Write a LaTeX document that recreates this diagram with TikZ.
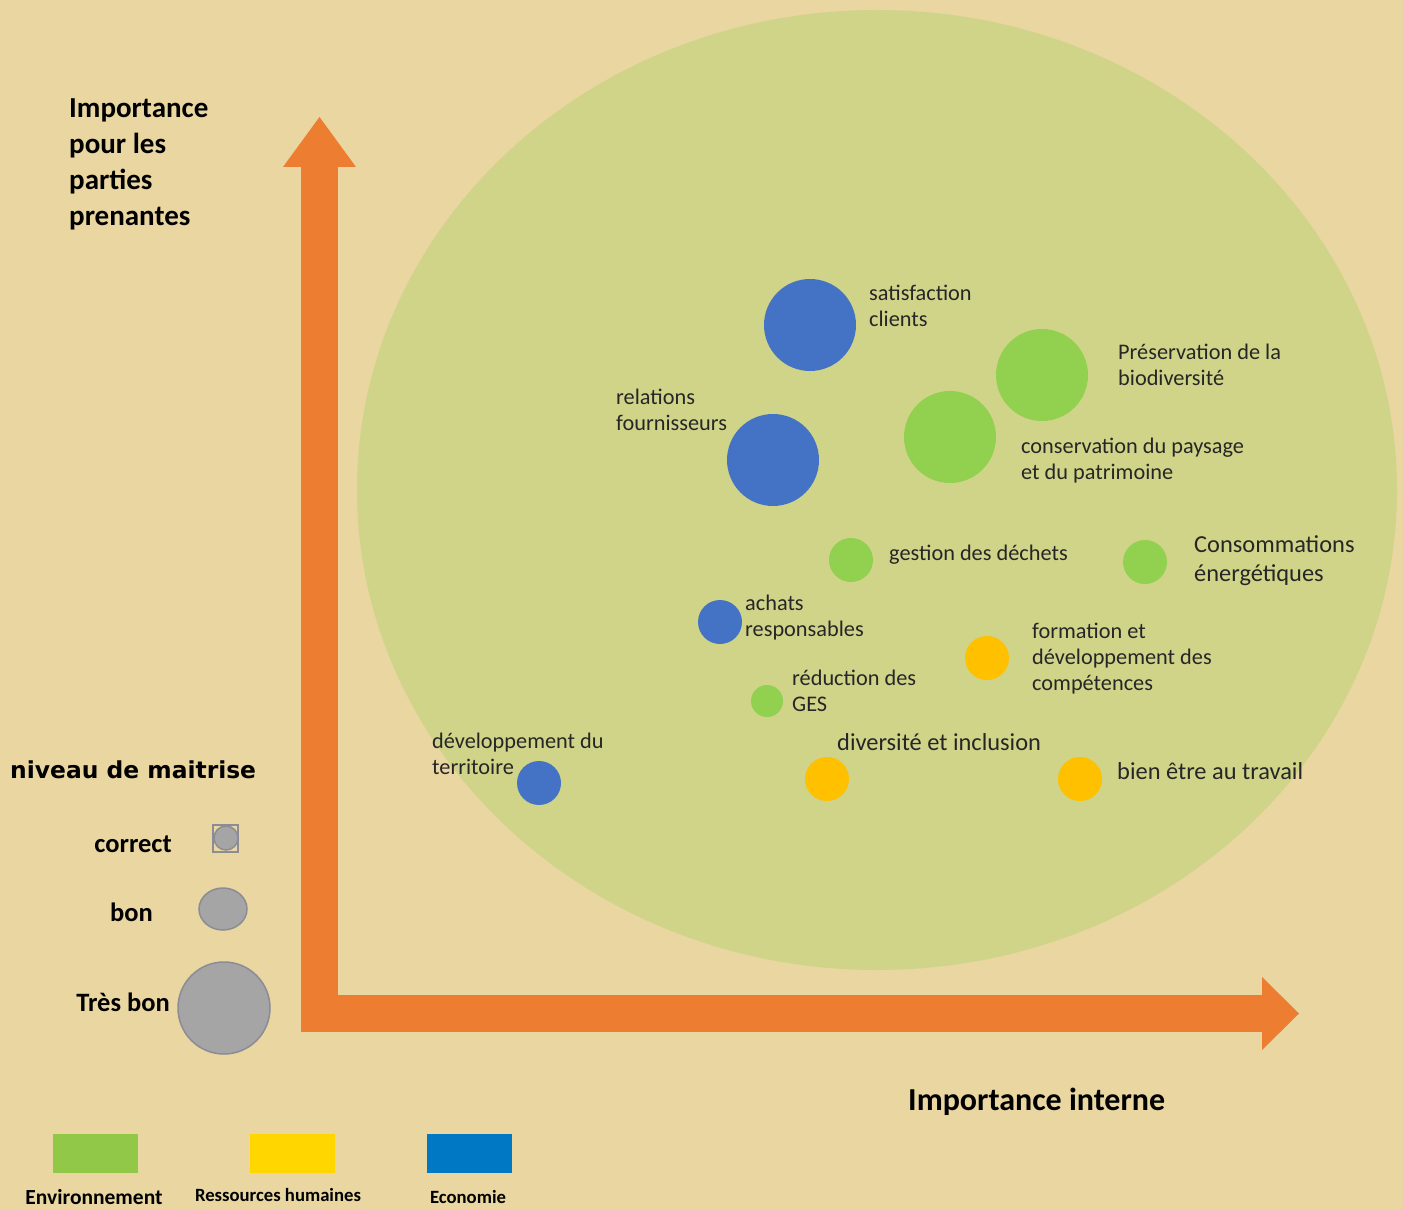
\documentclass[tikz,border=0pt]{standalone}
\usepackage{fontspec}
\setmainfont{Carlito}
\newfontfamily\widefont{DejaVu Sans}
\usetikzlibrary{arrows.meta,shapes.geometric}
\definecolor{parchment}{RGB}{233,214,160}
\definecolor{axisorange}{RGB}{237,125,49}
\definecolor{ecoblue}{RGB}{68,114,196}
\definecolor{envgreen}{RGB}{146,208,80}
\definecolor{rhyellow}{RGB}{255,192,0}
\definecolor{levelgray}{RGB}{165,165,165}
\definecolor{levelline}{RGB}{140,140,150}
\definecolor{keygreen}{RGB}{146,200,72}
\definecolor{keyyellow}{RGB}{255,214,0}
\definecolor{keyblue}{RGB}{0,120,196}

\begin{document}
\begin{tikzpicture}[x=1pt,y=-1pt,
    bubble/.style={circle,inner sep=0pt,minimum size=#1},
    eco/.style={bubble=#1,fill=ecoblue},
    env/.style={bubble=#1,fill=envgreen},
    rh/.style={bubble=#1,fill=rhyellow},
    lbl/.style={anchor=west,align=left,inner sep=0pt,text=black!85,
        font=\fontsize{22.3}{26}\selectfont},
    biglbl/.style={lbl,font=\fontsize{24.4}{29}\selectfont},
    level/.style={anchor=east,inner sep=0pt,font=\bfseries\fontsize{26.5}{30}\selectfont},
    levelbubble/.style={fill=levelgray,draw=levelline,line width=1.5pt,inner sep=0pt},
    keybox/.style={minimum width=85pt,minimum height=39pt,inner sep=0pt},
    keylbl/.style={inner sep=0pt,font=\bfseries\fontsize{21.5}{24}\selectfont}]

    % background and zone of interest
    \useasboundingbox (0,0) rectangle (1403,1209);
    \fill[parchment] (0,0) rectangle (1403,1209);
    \fill[envgreen,opacity=0.28] (877,490) ellipse [x radius=520,y radius=480];

    % axes
    \coordinate (ytip) at (319.5,117);
    \coordinate (corner) at (319.5,1013.5);
    \coordinate (xtip) at (1299,1013.5);
    \draw[axisorange,line width=37pt,line join=miter,
        {Triangle[length=50pt,width=73pt,line width=0pt]}-{Triangle[length=37pt,width=73pt,line width=0pt]}]
        (ytip) -- (corner) -- (xtip);
    \node[anchor=west,align=left,inner sep=0pt,font=\bfseries\fontsize{29}{36}\selectfont]
        (ytitle) at (69,164) {Importance\\pour les\\parties\\prenantes};
    \node[anchor=west,inner sep=0pt,font=\bfseries\fontsize{32}{36}\selectfont]
        (xtitle) at (908,1102) {Importance interne};

    % enjeux
    \node[eco=92pt] (sat) at (810,325) {};
    \node[lbl] (satlbl) at (869,306) {satisfaction\\clients};
    \node[env=92pt] (bio) at (1042,375) {};
    \node[lbl] (biolbl) at (1118,365) {Préservation de la\\biodiversité};
    \node[env=92pt] (pay) at (950,437) {};
    \node[lbl] (paylbl) at (1021,461) {conservation du paysage\\et du patrimoine};
    \node[eco=92pt] (fou) at (773,460) {};
    \node[lbl] (foulbl) at (616,410) {relations\\fournisseurs};
    \node[env=44pt] (dech) at (851,560) {};
    \node[lbl] (dechlbl) at (889,555) {gestion des déchets};
    \node[env=44pt] (ener) at (1145,562) {};
    \node[biglbl] (enerlbl) at (1194,561) {Consommations\\énergétiques};
    \node[eco=44pt] (ach) at (720,622) {};
    \node[lbl] (achlbl) at (745,618) {achats\\responsables};
    \node[rh=44pt] (form) at (987,658) {};
    \node[lbl] (formlbl) at (1032,659) {formation et\\développement des\\compétences};
    \node[env=32pt] (ges) at (767,701) {};
    \node[lbl] (geslbl) at (792,691) {réduction des\\GES};
    \node[eco=44pt] (terr) at (539,783) {};
    \node[lbl] (terrlbl) at (432,754) {développement du\\territoire};
    \node[rh=44pt] (div) at (827,779) {};
    \node[biglbl] (divlbl) at (837,742) {diversité et inclusion};
    \node[rh=44pt] (bien) at (1080,779) {};
    \node[biglbl] (bienlbl) at (1117,771) {bien être au travail};

    % niveau de maitrise
    \node[anchor=west,inner sep=0pt,font=\widefont\bfseries\fontsize{23.4}{26}\selectfont]
        (niv) at (10,770) {niveau de maitrise};
    \node[level] (corlbl) at (172,844) {correct};
    \draw[levelline,line width=1.5pt] (213,825) rectangle (238,852);
    \node[levelbubble,circle,minimum size=24pt] (cor) at (226,838) {};
    \node[level] (bonlbl) at (153,912) {bon};
    \node[levelbubble,ellipse,minimum width=48pt,minimum height=42pt] (bon) at (223,909) {};
    \node[level] (tbonlbl) at (170,1002) {Très bon};
    \node[levelbubble,circle,minimum size=92pt] (tbon) at (224,1008) {};

    % categories
    \node[keybox,fill=keygreen] (kenv) at (95,1153.5) {};
    \node[keylbl] (kenvlbl) at (94,1197) {Environnement};
    \node[keybox,fill=keyyellow] (krh) at (292,1153.5) {};
    \node[keylbl,font=\bfseries\fontsize{18.7}{22}\selectfont] (krhlbl) at (278,1195) {Ressources humaines};
    \node[keybox,fill=keyblue] (keco) at (469,1153.5) {};
    \node[keylbl,font=\bfseries\fontsize{18.7}{22}\selectfont] (kecolbl) at (468,1197) {Economie};
\end{tikzpicture}
\end{document}
